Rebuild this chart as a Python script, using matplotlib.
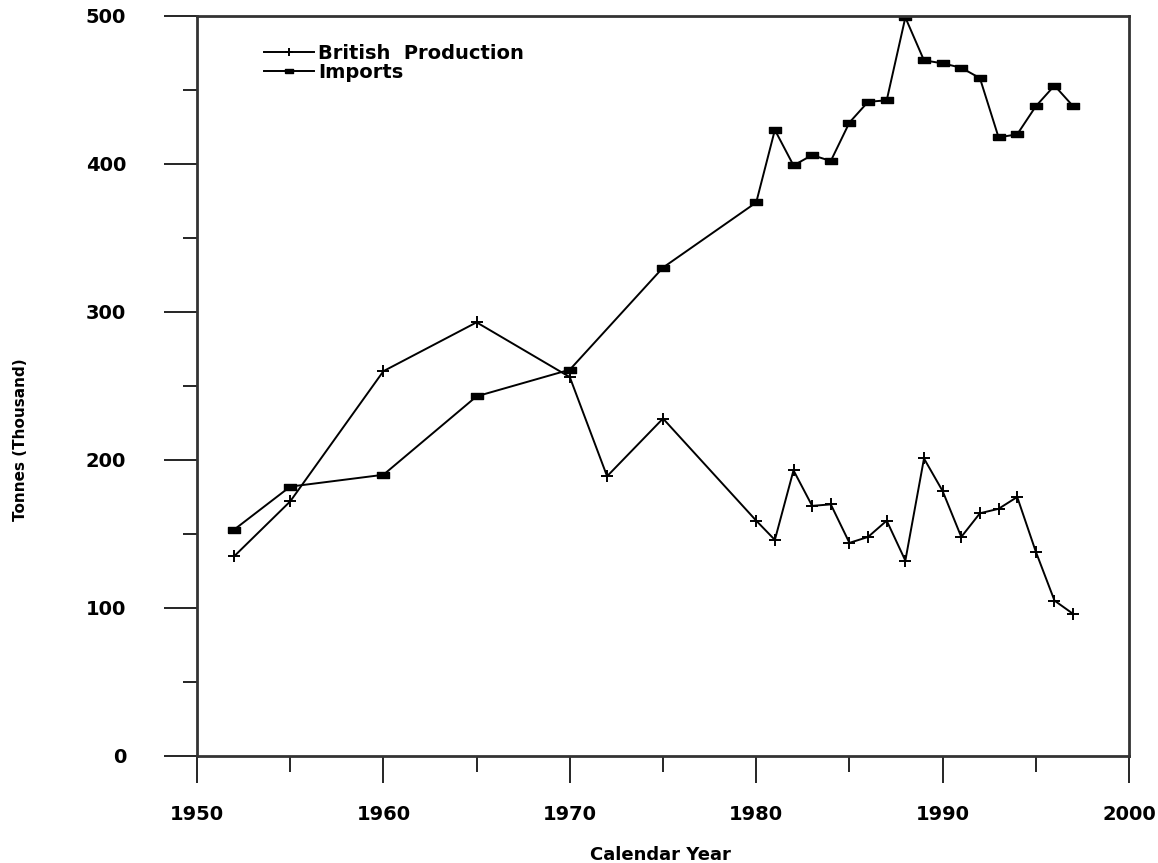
import matplotlib.pyplot as plt
from matplotlib.ticker import MultipleLocator

# values (thousand tonnes)
years_prod = [1952, 1955, 1960, 1965, 1970, 1972, 1975, 1980, 1981, 1982, 1983,
              1984, 1985, 1986, 1987, 1988, 1989, 1990, 1991, 1992, 1993, 1994,
              1995, 1996, 1997]
british_production = [135, 172, 260, 293, 256, 189, 228, 159, 146, 193, 169,
                      170, 144, 148, 159, 132, 201, 179, 148, 164, 167, 175,
                      138, 105, 96]

years_imp = [1952, 1955, 1960, 1965, 1970, 1975, 1980, 1981, 1982, 1983, 1984,
             1985, 1986, 1987, 1988, 1989, 1990, 1991, 1992, 1993, 1994, 1995,
             1996, 1997]
imports = [153, 182, 190, 243, 261, 330, 374, 423, 399, 406, 402,
           428, 442, 443, 499, 470, 468, 465, 458, 418, 420, 439,
           453, 439]

x_ticks = [1950, 1960, 1970, 1980, 1990, 2000]
y_ticks = [0, 100, 200, 300, 400, 500]

plt.rcParams['font.family'] = ['DejaVu Sans']
plt.rcParams['font.weight'] = 'bold'

fig = plt.figure(figsize=(11.58, 8.63), dpi=100)
ax = fig.add_axes([0.1701, 0.124, 0.8049, 0.8575])

rect = [(-1, -0.5), (1, -0.5), (1, 0.5), (-1, 0.5), (-1, -0.5)]

ax.plot(years_prod, british_production, color='black', lw=1.4,
        marker='+', markersize=9, markeredgewidth=1.4, label='British  Production')
ax.plot(years_imp, imports, color='black', lw=1.4,
        marker=rect, markersize=9, label='Imports')

ax.set_xlim(1950, 2000)
ax.set_ylim(0, 500)
ax.set_xticks(x_ticks)
ax.set_yticks(y_ticks)
ax.xaxis.set_minor_locator(MultipleLocator(5))
ax.yaxis.set_minor_locator(MultipleLocator(50))

for s in ax.spines.values():
    s.set_linewidth(2)
    s.set_color('#333333')

ax.tick_params(axis='x', which='major', direction='out', length=19.5, width=1.2, pad=16, labelsize=14)
ax.tick_params(axis='x', which='minor', direction='out', length=11.5, width=1.2)
ax.tick_params(axis='y', which='major', direction='out', length=24, width=1.2, pad=27, labelsize=14)
ax.tick_params(axis='y', which='minor', direction='out', length=10, width=1.2)
for lab in ax.get_xticklabels() + ax.get_yticklabels():
    lab.set_fontweight('bold')

ax.set_xlabel('Calendar Year', fontsize=13, fontweight='bold')
ax.xaxis.set_label_coords(0.497, -0.121)
ax.set_ylabel('Tonnes (Thousand)', fontsize=11, fontweight='bold')
ax.yaxis.set_label_coords(-0.181, 0.428)

leg = ax.legend(loc='upper left', bbox_to_anchor=(0.061, 0.975), frameon=False,
                fontsize=14, handlelength=2.6, handletextpad=0.2, labelspacing=0.0,
                borderpad=0, markerscale=0.6, numpoints=1)
for t in leg.get_texts():
    t.set_fontweight('bold')

fig.savefig('out.png', dpi=100)
